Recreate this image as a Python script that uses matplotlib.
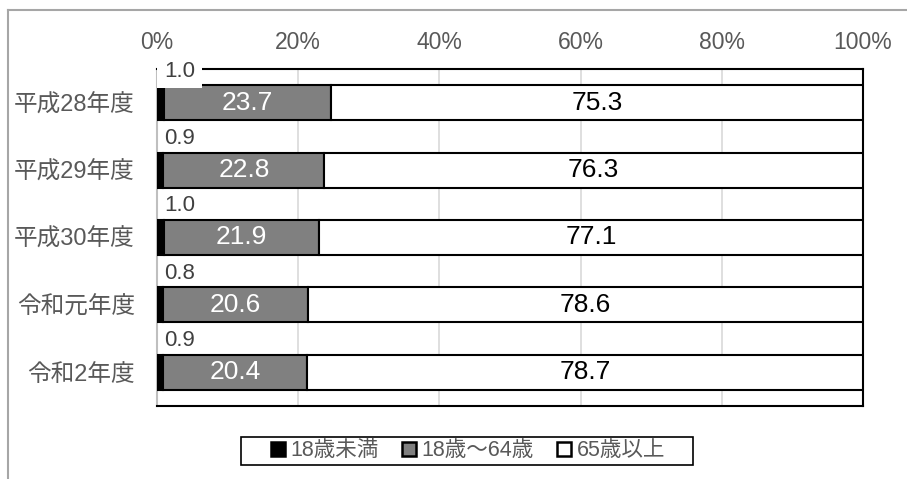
import matplotlib
matplotlib.use('Agg')
import matplotlib.pyplot as plt
from matplotlib.patches import Rectangle
from matplotlib.lines import Line2D
import numpy as np

plt.rcParams['font.family'] = ['Liberation Sans', 'Noto Sans CJK JP']

years = ['平成28年度', '平成29年度', '平成30年度', '令和元年度', '令和2年度']
under18 = [1.0, 0.9, 1.0, 0.8, 0.9]
age18_64 = [23.7, 22.8, 21.9, 20.6, 20.4]
over65 = [75.3, 76.3, 77.1, 78.6, 78.7]
series_names = ['18歳未満', '18歳～64歳', '65歳以上']
ticks = [0, 20, 40, 60, 80, 100]

W, H = 907, 479
fig = plt.figure(figsize=(W / 100, H / 100), dpi=100)
ax = fig.add_axes([157 / W, 1 - 406 / H, 706 / W, 337 / H])

y = np.arange(len(years))
h = 0.52
a = np.array(under18)
b = np.array(age18_64)
c = np.array(over65)

ax.barh(y, a, h, color='black', edgecolor='black', lw=1.5, zorder=3)
ax.barh(y, b, h, left=a, color='#808080', edgecolor='black', lw=1.5, zorder=3)
ax.barh(y, c, h, left=a + b, color='white', edgecolor='black', lw=1.5, zorder=3)

# value labels
for i in range(len(years)):
    # first label box is bigger in the original and hides the frame corner
    pad = 5 if i == 0 else 1
    ax.text(3.2, y[i] - 0.47, f'{under18[i]:.1f}', ha='center', va='center',
            fontsize=16, color='#404040', zorder=6,
            bbox=dict(facecolor='white', edgecolor='none', pad=pad))
    ax.text(a[i] + b[i] / 2, y[i], f'{age18_64[i]:.1f}', ha='center', va='center',
            fontsize=19, color='white', zorder=5)
    ax.text(a[i] + b[i] + c[i] / 2, y[i], f'{over65[i]:.1f}', ha='center', va='center',
            fontsize=19, color='black', zorder=5)

ax.set_xlim(0, 100)
ax.set_ylim(len(years) - 0.5, -0.5)
ax.set_yticks(y)
ax.set_yticklabels(years, fontsize=17, color='#595959')
ax.set_xticks(ticks)
ax.set_xticklabels([f'{t}%' for t in ticks], fontsize=16.5, color='#595959')
ax.xaxis.tick_top()
ax.tick_params(axis='x', length=0, pad=11)
ax.tick_params(axis='y', length=0, pad=16)
ax.grid(axis='x', color='#d9d9d9', lw=1.2, zorder=0)
ax.set_axisbelow(True)

for side in ['top', 'right', 'bottom']:
    ax.spines[side].set_color('black')
    ax.spines[side].set_linewidth(1.5)
ax.spines['left'].set_color('#bfbfbf')
ax.spines['left'].set_linewidth(1.5)

# legend (frame drawn separately to get the wide, flat box)
handles = [Rectangle((0, 0), 1, 1, facecolor=col, edgecolor='black', lw=1.8)
           for col in ['black', '#808080', 'white']]
leg = fig.legend(handles, series_names, loc='center', bbox_to_anchor=(0.516, 0.0585),
                 ncol=3, fontsize=15.5, frameon=False, borderpad=0.1,
                 handlelength=0.65, handleheight=0.65, handletextpad=0.25,
                 columnspacing=1.1, labelcolor='#595959')
fig.add_artist(Rectangle((241 / W, 1 - 465 / H), 452 / W, 28 / H, transform=fig.transFigure,
                         facecolor='none', edgecolor='black', lw=1.2))

# outer chart border
fig.add_artist(Line2D([8 / W, 8 / W], [0, 1 - 10 / H], color='#a6a6a6', lw=1.5,
                      transform=fig.transFigure))
fig.add_artist(Line2D([8 / W, 1], [1 - 10 / H, 1 - 10 / H], color='#a6a6a6', lw=1.5,
                      transform=fig.transFigure))

fig.savefig('out.png', dpi=100)
